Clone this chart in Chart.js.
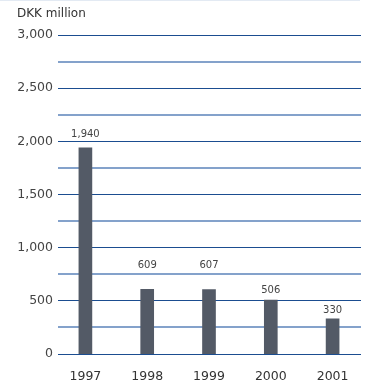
<!DOCTYPE html>
<html lang="en">
  <head>
    <meta charset="UTF-8" />
    <title>DKK million</title>
    <script src="https://cdn.jsdelivr.net/npm/chart.js"></script>
    <style>
      body { margin: 0; background: #fff; }
      #wrap { width: 368px; height: 380px; position: relative; }
    </style>
  </head>
  <body>
    <div id="wrap">
      <canvas id="chart"></canvas>
    </div>

    <script>
      var years = ["1997", "1998", "1999", "2000", "2001"];
      var amounts = [1940, 609, 607, 506, 330];
      var yTicks = [0, 500, 1000, 1500, 2000, 2500, 3000];
      // gap in px between each value label and the top of its bar
      var labelGap = [11, 21, 21, 7, 6];

      var font = "DejaVu Sans";

      // horizontal rules a little narrower than the plot area
      var rules = {
        id: "rules",
        beforeDatasetsDraw: function (chart) {
          var c = chart.ctx;
          var y = chart.scales.y;
          c.save();
          for (var v = 0; v <= 3000; v += 250) {
            var py = y.getPixelForValue(v);
            var major = yTicks.includes(v);
            c.strokeStyle = major ? "#1b4d90" : "#84a2cb";
            c.lineWidth = major ? 1 : 2;
            var ay = major ? Math.floor(py) + 0.5 : Math.round(py);
            c.beginPath();
            c.moveTo(58, ay);
            c.lineTo(361, ay);
            c.stroke();
          }
          c.restore();
        },
      };

      // title above the axis, thin rule at the very top, value labels over the bars
      var extras = {
        id: "extras",
        beforeDraw: function (chart) {
          var c = chart.ctx;
          c.save();
          c.fillStyle = "#e3eaf3";
          c.fillRect(0, 0, 360, 1);
          c.restore();
        },
        afterDatasetsDraw: function (chart) {
          var c = chart.ctx;
          c.save();
          c.font = "12px '" + font + "'";
          c.fillStyle = "#333";
          c.textAlign = "left";
          c.textBaseline = "alphabetic";
          c.fillText("DKK million", 17, 17);

          c.font = "10px '" + font + "'";
          c.fillStyle = "#444";
          c.textAlign = "center";
          chart.getDatasetMeta(0).data.forEach(function (bar, i) {
            c.fillText(amounts[i].toLocaleString("en-US"), bar.x, bar.y - labelGap[i]);
          });
          c.restore();
        },
      };

      new Chart(document.getElementById("chart"), {
        type: "bar",
        data: {
          labels: years,
          datasets: [
            {
              data: amounts,
              backgroundColor: "#535a66",
              barThickness: 13,
            },
          ],
        },
        options: {
          responsive: true,
          maintainAspectRatio: false,
          animation: false,
          layout: { padding: { top: 35, right: 4.5, left: 0, bottom: 0 } },
          plugins: {
            legend: { display: false },
            tooltip: { enabled: false },
          },
          scales: {
            x: {
              grid: { display: false },
              border: { display: false },
              ticks: {
                padding: 7,
                color: "#333",
                font: { family: font, size: 12.5 },
              },
              afterFit: function (scale) {
                scale.height = 26;
              },
            },
            y: {
              min: 0,
              max: 3000,
              border: { display: false },
              grid: { display: false, drawTicks: false },
              ticks: {
                stepSize: 500,
                padding: 1.5,
                color: "#444",
                font: { family: font, size: 12.5 },
                callback: function (v) {
                  return v.toLocaleString("en-US");
                },
              },
              afterFit: function (scale) {
                scale.width = 54.5;
              },
            },
          },
        },
        plugins: [rules, extras],
      });
    </script>
  </body>
</html>
